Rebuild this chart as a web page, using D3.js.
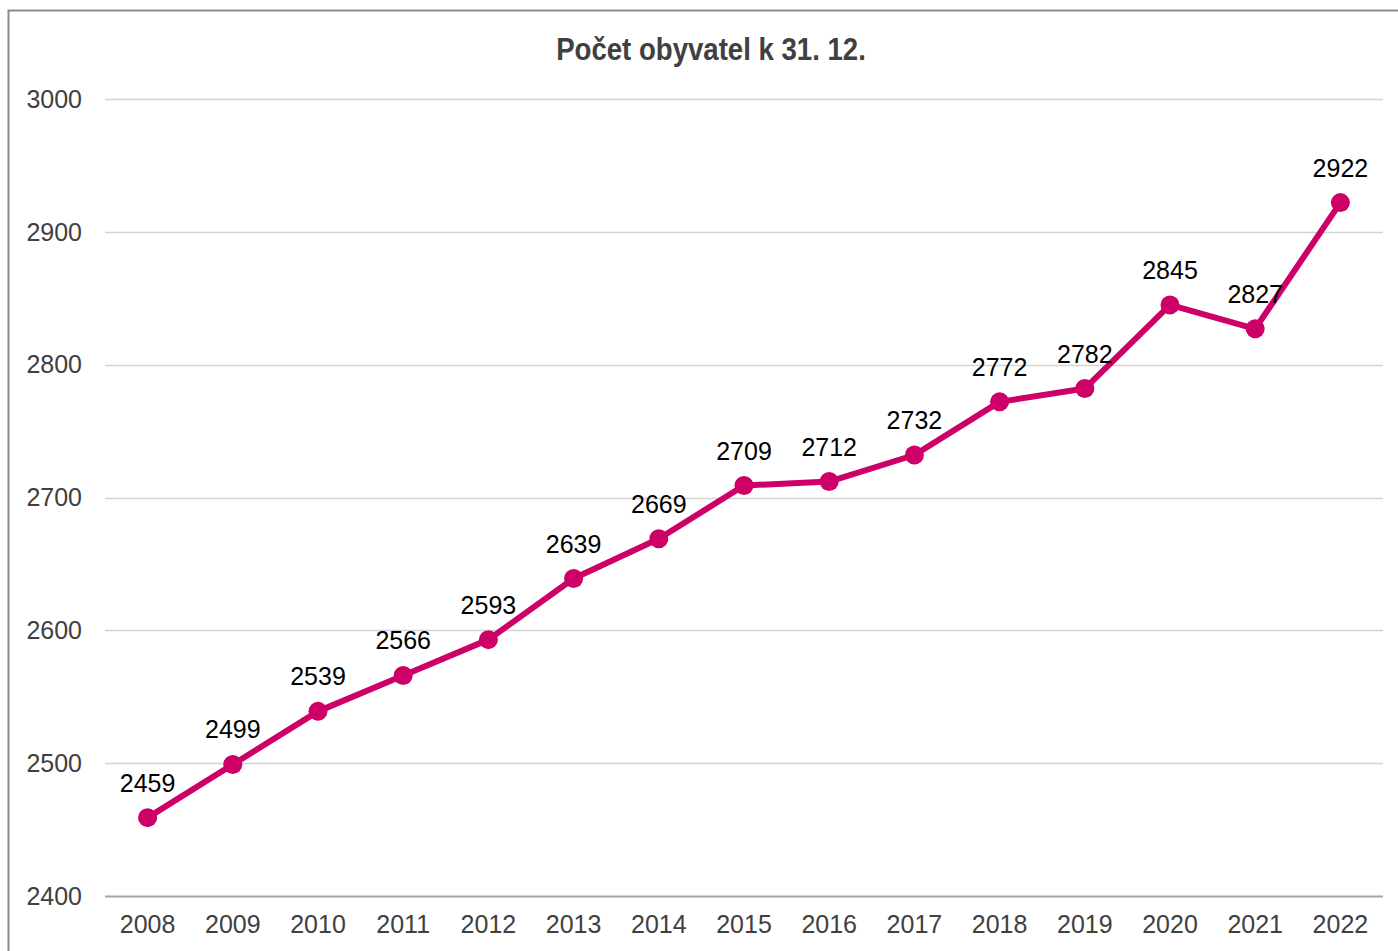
<!DOCTYPE html>
<html>
<head>
<meta charset="utf-8">
<script src="https://cdn.jsdelivr.net/npm/d3@7"></script>
<style>
  body { margin: 0; background: #fff; }
  svg { display: block; }
</style>
</head>
<body>
<div id="chart"></div>
<script>
// population at 31 Dec
const years = ['2008','2009','2010','2011','2012','2013','2014','2015','2016','2017','2018','2019','2020','2021','2022'];
const population = [2459, 2499, 2539, 2566, 2593, 2639, 2669, 2709, 2712, 2732, 2772, 2782, 2845, 2827, 2922];
const yTicks = [2400, 2500, 2600, 2700, 2800, 2900, 3000];
const chartTitle = 'Počet obyvatel k 31. 12.';

const W = 1398, H = 951;
const svg = d3.select('#chart').append('svg')
  .attr('width', W).attr('height', H);

// outer frame
svg.append('rect')
  .attr('x', 8.5).attr('y', 10.5)
  .attr('width', W + 20).attr('height', H + 20)
  .attr('fill', '#fff').attr('stroke', '#8c8c8c').attr('stroke-width', 2);

const x = d3.scaleBand().domain(years).range([105, 1383]);
const y = d3.scaleLinear().domain([2400, 3000]).range([896, 99]);

// gridlines
svg.append('g').selectAll('line')
  .data(yTicks)
  .join('line')
  .attr('x1', 105).attr('x2', 1383)
  .attr('y1', d => Math.round(y(d)) + 0.5).attr('y2', d => Math.round(y(d)) + 0.5)
  .attr('stroke', d => d === 2400 ? '#a6a6a6' : '#d4d4d4')
  .attr('stroke-width', d => d === 2400 ? 2 : 1.5);

const font = 'Liberation Sans, Arial, sans-serif';

// y labels
svg.append('g').selectAll('text')
  .data(yTicks)
  .join('text')
  .attr('x', 82).attr('y', d => y(d))
  .attr('dy', '0.35em')
  .attr('text-anchor', 'end')
  .attr('font-family', font)
  .attr('font-size', 25)
  .attr('fill', '#404040')
  .text(d => d);

// x labels
svg.append('g').selectAll('text')
  .data(years)
  .join('text')
  .attr('x', d => x(d) + x.bandwidth() / 2)
  .attr('y', 933)
  .attr('text-anchor', 'middle')
  .attr('font-family', font)
  .attr('font-size', 25)
  .attr('fill', '#404040')
  .text(d => d);

const cx = (d, i) => x(years[i]) + x.bandwidth() / 2;

const line = d3.line()
  .x(cx)
  .y(d => y(d));

svg.append('path')
  .datum(population)
  .attr('d', line)
  .attr('fill', 'none')
  .attr('stroke', '#cc0066')
  .attr('stroke-width', 6)
  .attr('stroke-linejoin', 'round');

svg.append('g').selectAll('circle')
  .data(population)
  .join('circle')
  .attr('cx', cx)
  .attr('cy', d => y(d))
  .attr('r', 9.5)
  .attr('fill', '#cc0066');

// value labels
svg.append('g').selectAll('text')
  .data(population)
  .join('text')
  .attr('x', cx)
  .attr('y', d => y(d) - 26)
  .attr('text-anchor', 'middle')
  .attr('font-family', font)
  .attr('font-size', 25)
  .attr('fill', '#000')
  .text(d => d);

// title (condensed bold)
svg.append('text')
  .attr('transform', 'translate(711,60) scale(0.89,1)')
  .attr('text-anchor', 'middle')
  .attr('font-family', font)
  .attr('font-weight', 'bold')
  .attr('font-size', 31)
  .attr('fill', '#404040')
  .text(chartTitle);
</script>
</body>
</html>
